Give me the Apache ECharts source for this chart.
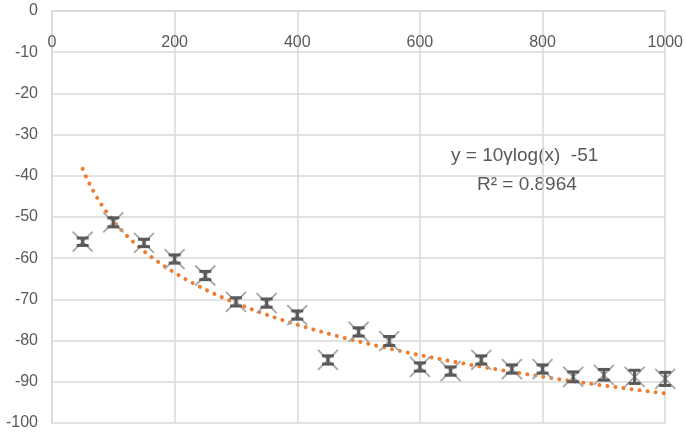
<!DOCTYPE html>
<html>
<head>
<meta charset="utf-8">
<script src="https://cdn.jsdelivr.net/npm/echarts@6/dist/echarts.min.js"></script>
<style>
  html, body { margin: 0; padding: 0; background: #fff; }
  #chart { width: 686px; height: 434px; }
</style>
</head>
<body>
<div id="chart"></div>
<script>
const xValues = [50, 100, 150, 200, 250, 300, 350, 400, 450, 500, 550, 600, 650, 700, 750, 800, 850, 900, 950, 1000]
const yValues = [-56.0, -51.3, -56.3, -60.2, -64.2, -70.6, -70.9, -73.8, -84.7, -77.9, -80.1, -86.4, -87.4, -84.7, -86.9, -86.9, -88.8, -88.3, -88.8, -89.3]
const yErrors = [0.9, 1.1, 0.9, 1.0, 1.0, 1.0, 1.0, 1.0, 1.0, 1.0, 1.1, 1.0, 1.0, 1.0, 1.0, 1.0, 1.2, 1.3, 1.6, 1.6]
// trendline as drawn in the picture: y = slope * ln(x) + intercept
const trendSlope = -18.2
const trendIntercept = 32.9
const trendRange = [50, 1000]
const equationText = 'y = 10γlog(x)  -51'
const r2Text = 'R² = 0.8964'

const textColor = '#595959'
const gridColor = '#d9d9d9'
const font = 'Liberation Sans, DejaVu Sans, sans-serif'

const trendData = []
for (let x = trendRange[0]; x <= trendRange[1]; x += 5) {
  trendData.push([x, trendSlope * Math.log(x) + trendIntercept])
}

const pointData = xValues.map((x, i) => [x, yValues[i], yErrors[i]])

const chart = echarts.init(document.getElementById('chart'))
chart.setOption({
  animation: false,
  backgroundColor: '#fff',
  grid: { left: 52, right: 19, top: 11, bottom: 11 },
  xAxis: {
    type: 'value',
    position: 'top',
    min: 0,
    max: 1000,
    interval: 200,
    axisLine: { show: true, onZero: false, lineStyle: { color: gridColor, width: 1.5 } },
    axisTick: { show: false },
    axisLabel: {
      inside: true,
      margin: 24,
      color: textColor,
      fontSize: 16,
      fontFamily: font,
      formatter: v => String(v)
    },
    splitLine: { show: true, lineStyle: { color: gridColor, width: 1.5 } }
  },
  yAxis: {
    type: 'value',
    min: -100,
    max: 0,
    interval: 10,
    axisLine: { show: true, lineStyle: { color: gridColor, width: 1.5 } },
    axisTick: { show: false },
    axisLabel: {
      margin: 14,
      color: textColor,
      fontSize: 16,
      fontFamily: font
    },
    splitLine: { show: true, lineStyle: { color: gridColor, width: 1.5 } }
  },
  graphic: [
    {
      type: 'text',
      left: 451,
      top: 146,
      style: { text: equationText, fill: textColor, font: '19px ' + font }
    },
    {
      type: 'text',
      left: 477,
      top: 175,
      style: { text: r2Text, fill: textColor, font: '19px ' + font }
    }
  ],
  series: [
    {
      name: 'trend',
      type: 'line',
      data: trendData,
      showSymbol: false,
      z: 3,
      lineStyle: { color: '#ED7D31', width: 4, type: [0.1, 8], cap: 'round' }
    },
    {
      name: 'points',
      type: 'custom',
      z: 4,
      data: pointData,
      renderItem: function (params, api) {
        const x = api.value(0)
        const y = api.value(1)
        const e = api.value(2)
        const c = api.coord([x, y])
        const top = api.coord([x, y + e])
        const bot = api.coord([x, y - e])
        const s = 10
        const cap = 6
        const dark = { stroke: '#595959', lineWidth: 3 }
        const light = { stroke: '#a6a6a6', lineWidth: 1.8 }
        return {
          type: 'group',
          children: [
            { type: 'line', shape: { x1: c[0] - s, y1: c[1] - s, x2: c[0] + s, y2: c[1] + s }, style: light },
            { type: 'line', shape: { x1: c[0] - s, y1: c[1] + s, x2: c[0] + s, y2: c[1] - s }, style: light },
            { type: 'line', shape: { x1: top[0], y1: top[1], x2: bot[0], y2: bot[1] }, style: dark },
            { type: 'line', shape: { x1: top[0] - cap, y1: top[1], x2: top[0] + cap, y2: top[1] }, style: dark },
            { type: 'line', shape: { x1: bot[0] - cap, y1: bot[1], x2: bot[0] + cap, y2: bot[1] }, style: dark }
          ]
        }
      }
    }
  ]
})
window.addEventListener('resize', () => { chart && chart.resize() })
</script>
</body>
</html>
